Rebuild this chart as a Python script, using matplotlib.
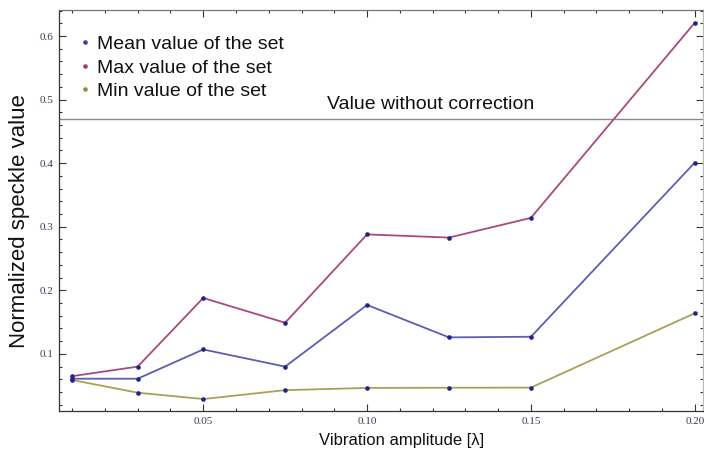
import matplotlib
matplotlib.use("Agg")
import matplotlib.pyplot as plt
from matplotlib.ticker import MultipleLocator, FixedLocator, FixedFormatter
from matplotlib.lines import Line2D

amplitude = [0.01, 0.03, 0.05, 0.075, 0.10, 0.125, 0.15, 0.20]
mean_vals = [0.061, 0.061, 0.107, 0.080, 0.177, 0.126, 0.127, 0.401]
max_vals = [0.065, 0.080, 0.188, 0.149, 0.288, 0.283, 0.314, 0.621]
min_vals = [0.059, 0.039, 0.029, 0.043, 0.0465, 0.0468, 0.047, 0.164]
reference_value = 0.47

series_names = ["Mean value of the set", "Max value of the set", "Min value of the set"]
line_colors = ["#5d5db3", "#a84a7c", "#aaa058"]
legend_colors = ["#3f3d99", "#993d71", "#998b3d"]
point_color = "#22228a"

xticks = [0.05, 0.10, 0.15, 0.20]
xticklabels = ["0.05", "0.10", "0.15", "0.20"]
yticks = [0.1, 0.2, 0.3, 0.4, 0.5, 0.6]
yticklabels = ["0.1", "0.2", "0.3", "0.4", "0.5", "0.6"]

fig = plt.figure(figsize=(7.04, 4.55), dpi=100)
ax = fig.add_axes([59/704, 1-411/455, (703-59)/704, (411-10)/455])

for vals, c in zip([max_vals, mean_vals, min_vals], [line_colors[1], line_colors[0], line_colors[2]]):
    ax.plot(amplitude, vals, color=c, lw=1.3, zorder=2)
for vals in [max_vals, mean_vals, min_vals]:
    ax.plot(amplitude, vals, ls="none", marker="o", ms=2.3, color=point_color, zorder=3)

ax.axhline(reference_value, color="#8a8a8a", lw=1.0, zorder=1)
ax.text(0.1195, reference_value + 0.009, "Value without correction", ha="center", va="bottom",
        fontsize=14, family="Liberation Sans", color="#111111")

ax.set_xlim(0.006, 0.2025)
ax.set_ylim(0.0102, 0.641)

ax.xaxis.set_major_locator(FixedLocator(xticks))
ax.xaxis.set_major_formatter(FixedFormatter(xticklabels))
ax.xaxis.set_minor_locator(MultipleLocator(0.01))
ax.yaxis.set_major_locator(FixedLocator(yticks))
ax.yaxis.set_major_formatter(FixedFormatter(yticklabels))
ax.yaxis.set_minor_locator(MultipleLocator(0.02))

ax.tick_params(which="both", direction="in", top=True, right=True, color="#333333", width=0.8)
ax.tick_params(which="major", length=5)
ax.tick_params(which="minor", length=2.5)
ax.tick_params(axis="both", which="major", labelsize=8, labelcolor="#3c3a5c", pad=4)
ax.tick_params(labelright=False, labeltop=False)
for lab in ax.get_xticklabels() + ax.get_yticklabels():
    lab.set_family("Liberation Serif")

for sp in ax.spines.values():
    sp.set_color("#333333")
    sp.set_linewidth(0.9)
ax.spines["top"].set_color("#777777")
ax.spines["right"].set_color("#bbbbbb")

ax.set_xlabel("Vibration amplitude [λ]", fontsize=12, family="Liberation Sans", color="#111111")
ax.xaxis.set_label_coords((402-59)/644, -(440-411)/401, transform=ax.transAxes)
ax.xaxis.label.set_va("center")
ax.set_ylabel("Normalized speckle value", fontsize=16, family="Liberation Sans", color="#111111")
ax.yaxis.set_label_coords(-(59-20)/644, (411-221)/401, transform=ax.transAxes)
ax.yaxis.label.set_va("center")

handles = [Line2D([], [], ls="none", marker="o", ms=2.3, color=c) for c in legend_colors]
leg = ax.legend(handles, series_names, loc="upper left", bbox_to_anchor=(0.0097, 0.97), frameon=False,
                prop={"family": "Liberation Sans", "size": 14}, handlelength=0.6, handletextpad=0.35,
                labelspacing=0.3, borderaxespad=0.3)
for t in leg.get_texts():
    t.set_color("#111111")

fig.savefig("out.png", dpi=100)
